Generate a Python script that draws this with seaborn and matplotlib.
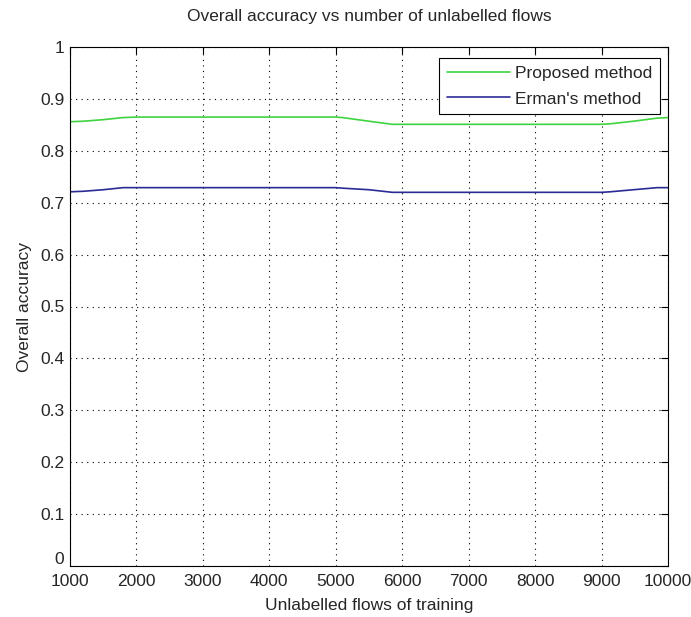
import matplotlib
matplotlib.use("Agg")
import matplotlib.pyplot as plt
import matplotlib.transforms as mtransforms
import seaborn as sns
import pandas as pd

x_vals = [1000, 1200, 1500, 1800, 2000, 3000, 4000, 5000, 5100, 5500, 5850, 6000, 7000, 8000, 9000, 9130, 9480, 9840, 10000]
proposed = [0.856, 0.857, 0.860, 0.864, 0.865, 0.865, 0.865, 0.865, 0.864, 0.857, 0.851, 0.851, 0.851, 0.851, 0.851, 0.852, 0.857, 0.863, 0.864]
erman = [0.721, 0.722, 0.725, 0.729, 0.729, 0.729, 0.729, 0.729, 0.728, 0.725, 0.720, 0.720, 0.720, 0.720, 0.720, 0.721, 0.725, 0.729, 0.729]
series_names = ["Proposed method", "Erman's method"]
x_ticks = [1000, 2000, 3000, 4000, 5000, 6000, 7000, 8000, 9000, 10000]
y_ticks = [0, 0.1, 0.2, 0.3, 0.4, 0.5, 0.6, 0.7, 0.8, 0.9, 1]

df = pd.concat([
    pd.DataFrame({"x": x_vals, "y": proposed, "method": series_names[0]}),
    pd.DataFrame({"x": x_vals, "y": erman, "method": series_names[1]}),
])

sns.set_style("white")
plt.rcParams['font.family'] = ['Liberation Sans', 'DejaVu Sans']

fig = plt.figure(figsize=(6.91, 6.17), dpi=100)
ax = fig.add_axes([70/691, 1-566/617, 598/691, 519/617])

sns.lineplot(data=df, x="x", y="y", hue="method", palette=["#3fd43f", "#2b2b96"],
             ax=ax, linewidth=1.2, legend=True)

ax.set_xlim(1000, 10000)
ax.set_ylim(0, 1)
ax.set_xticks(x_ticks)
ax.set_xticklabels([str(t) for t in x_ticks])
ax.set_yticks(y_ticks)
ax.set_yticklabels(["0", "0.1", "0.2", "0.3", "0.4", "0.5", "0.6", "0.7", "0.8", "0.9", "1"])
ax.grid(True, linestyle=(0, (1, 4)), color="black", linewidth=0.8)
ax.tick_params(direction="in", top=True, right=True, length=5, labelsize=12.5, width=0.8,
               color="black", pad=4)
ax.tick_params(axis="x", pad=6)
for s in ax.spines.values():
    s.set_color("black")
    s.set_linewidth(0.8)
    s.set_visible(True)

# MATLAB-style: the "0" y tick label sits a little above the x tick labels
zero_lbl = ax.get_yticklabels()[0]
zero_lbl.set_transform(zero_lbl.get_transform() +
                       mtransforms.ScaledTranslation(0, 6/72, fig.dpi_scale_trans))

ax.set_xlabel("Unlabelled flows of training", fontsize=12.5, labelpad=6)
ax.set_ylabel("Overall accuracy", fontsize=12.5, labelpad=6)
ax.set_title("Overall accuracy vs number of unlabelled flows", fontsize=12.5, pad=19)

leg = ax.legend(loc="upper right", bbox_to_anchor=((660-70)/598, (566-58)/519),
                fontsize=12.5, frameon=True, fancybox=False,
                edgecolor="black", framealpha=1, borderaxespad=0, handlelength=3.6,
                handletextpad=0.3, borderpad=0.45, labelspacing=0.6)
leg.get_frame().set_linewidth(0.8)

fig.savefig("out.png", dpi=100, facecolor="white")
